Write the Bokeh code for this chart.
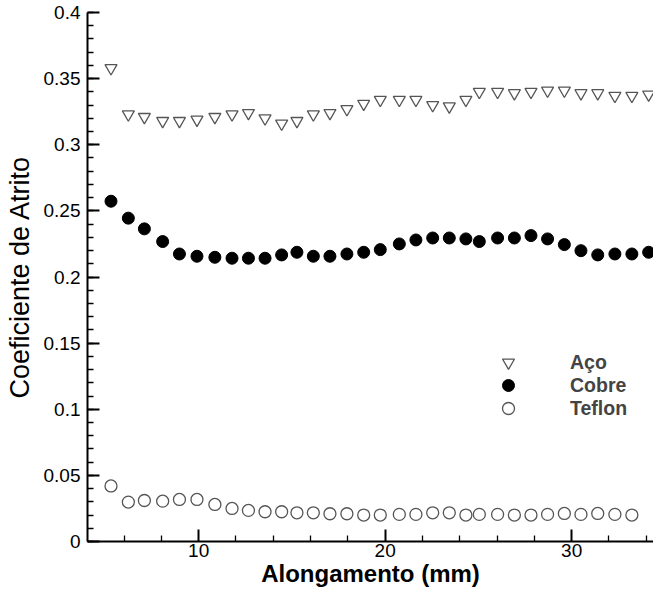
from bokeh.plotting import figure
from bokeh.models import Range1d, FixedTicker, Legend, LegendItem
from bokeh.embed import file_html
from bokeh.resources import INLINE

# ---- data ----
alongamento = [5.30, 6.23, 7.09, 8.07, 8.97, 9.91, 10.87, 11.79, 12.67, 13.56, 14.45,
               15.27, 16.15, 17.04, 17.95, 18.85, 19.74, 20.76, 21.65, 22.55, 23.44,
               24.33, 25.05, 26.03, 26.93, 27.82, 28.71, 29.61, 30.50, 31.40, 32.32,
               33.23, 34.13]
aco = [0.358, 0.323, 0.321, 0.318, 0.318, 0.319, 0.321, 0.323, 0.324, 0.320, 0.316,
       0.318, 0.323, 0.324, 0.327, 0.331, 0.334, 0.334, 0.334, 0.330, 0.329, 0.334,
       0.340, 0.340, 0.339, 0.340, 0.341, 0.341, 0.339, 0.339, 0.337, 0.337, 0.338]
cobre = [0.2573, 0.2445, 0.2364, 0.2268, 0.2174, 0.2157, 0.2149, 0.2142, 0.2142, 0.2142,
         0.2167, 0.2187, 0.2157, 0.2157, 0.2174, 0.2187, 0.2207, 0.2250, 0.2280, 0.2295,
         0.2295, 0.2288, 0.2268, 0.2295, 0.2295, 0.2313, 0.2288, 0.2245, 0.2199, 0.2167,
         0.2174, 0.2174, 0.2187]
teflon = [0.042, 0.0298, 0.031, 0.0305, 0.0318, 0.0318, 0.028, 0.025, 0.0235, 0.0225,
          0.0225, 0.0217, 0.0217, 0.021, 0.021, 0.020, 0.020, 0.0205, 0.0205, 0.0217,
          0.0217, 0.020, 0.0205, 0.0205, 0.020, 0.020, 0.0205, 0.0212, 0.0205, 0.0212,
          0.0205, 0.020]
teflon_x = alongamento[:len(teflon)]

series_labels = ["Aço", "Cobre", "Teflon"]
x_ticks = [10, 20, 30]
x_minor_ticks = [6, 8, 12, 14, 16, 18, 22, 24, 26, 28, 32, 34]
y_ticks = [0, 0.05, 0.1, 0.15, 0.2, 0.25, 0.3, 0.35, 0.4]
y_tick_labels = ["0", "0.05", "0.1", "0.15", "0.2", "0.25", "0.3", "0.35", "0.4"]
y_minor_ticks = [i / 100 for i in range(0, 41)]

FONT = "Liberation Sans"

p = figure(width=653, height=591, output_backend="svg", toolbar_location=None,
           x_range=Range1d(4.04, 34.39), y_range=Range1d(0, 0.4),
           min_border_left=87, min_border_right=0, min_border_top=12,
           min_border_bottom=50)
p.outline_line_color = None
p.grid.visible = False
p.background_fill_color = "white"
p.border_fill_color = "white"

r_aco = p.scatter(alongamento, aco, marker="inverted_triangle", size=12,
                  fill_color="white", line_color="#555555", line_width=1.3)
r_cobre = p.scatter(alongamento, cobre, marker="circle", size=12,
                    fill_color="black", line_color="black")
r_teflon = p.scatter(teflon_x, teflon, marker="circle", size=12,
                     fill_color="white", line_color="#555555", line_width=1.3)

for ax in (p.xaxis[0], p.yaxis[0]):
    ax.axis_line_width = 2
    ax.axis_line_color = "black"
    ax.major_tick_in = 12
    ax.major_tick_out = 0
    ax.minor_tick_in = 6
    ax.minor_tick_out = 0
    ax.major_tick_line_width = 2
    ax.minor_tick_line_width = 1.3
    ax.major_label_text_font = FONT
    ax.major_label_text_font_size = "19px"
    ax.major_label_text_color = "black"
    ax.axis_label_text_font = FONT
    ax.axis_label_text_color = "black"

p.xaxis.ticker = FixedTicker(ticks=x_ticks, minor_ticks=x_minor_ticks)
p.xaxis.major_label_standoff = 2
p.xaxis.axis_label = "Alongamento (mm)"
p.xaxis.axis_label_text_font_size = "24px"
p.xaxis.axis_label_text_font_style = "bold"
p.xaxis.axis_label_standoff = 0

p.yaxis.ticker = FixedTicker(ticks=y_ticks, minor_ticks=y_minor_ticks)
p.yaxis.major_label_overrides = {t: l for t, l in zip(y_ticks, y_tick_labels)}
p.yaxis.major_label_standoff = 7
p.yaxis.axis_label = "Coeficiente de Atrito"
p.yaxis.axis_label_text_font_size = "27px"
p.yaxis.axis_label_text_font_style = "normal"
p.yaxis.axis_label_standoff = 6

renderers = [r_aco, r_cobre, r_teflon]
legend_y = [164, 141, 118]
for lab, rend, ly in zip(series_labels, renderers, legend_y):
    lg = Legend(items=[LegendItem(label=lab, renderers=[rend])],
                location=(406, ly), orientation="vertical",
                border_line_color=None, background_fill_alpha=0,
                padding=0, margin=0, spacing=0,
                glyph_width=30, glyph_height=30, label_height=30,
                label_standoff=47, label_text_font=FONT,
                label_text_font_size="19.5px", label_text_font_style="bold")
    p.add_layout(lg, "center")

open("out.html", "w").write(file_html(p, INLINE))
